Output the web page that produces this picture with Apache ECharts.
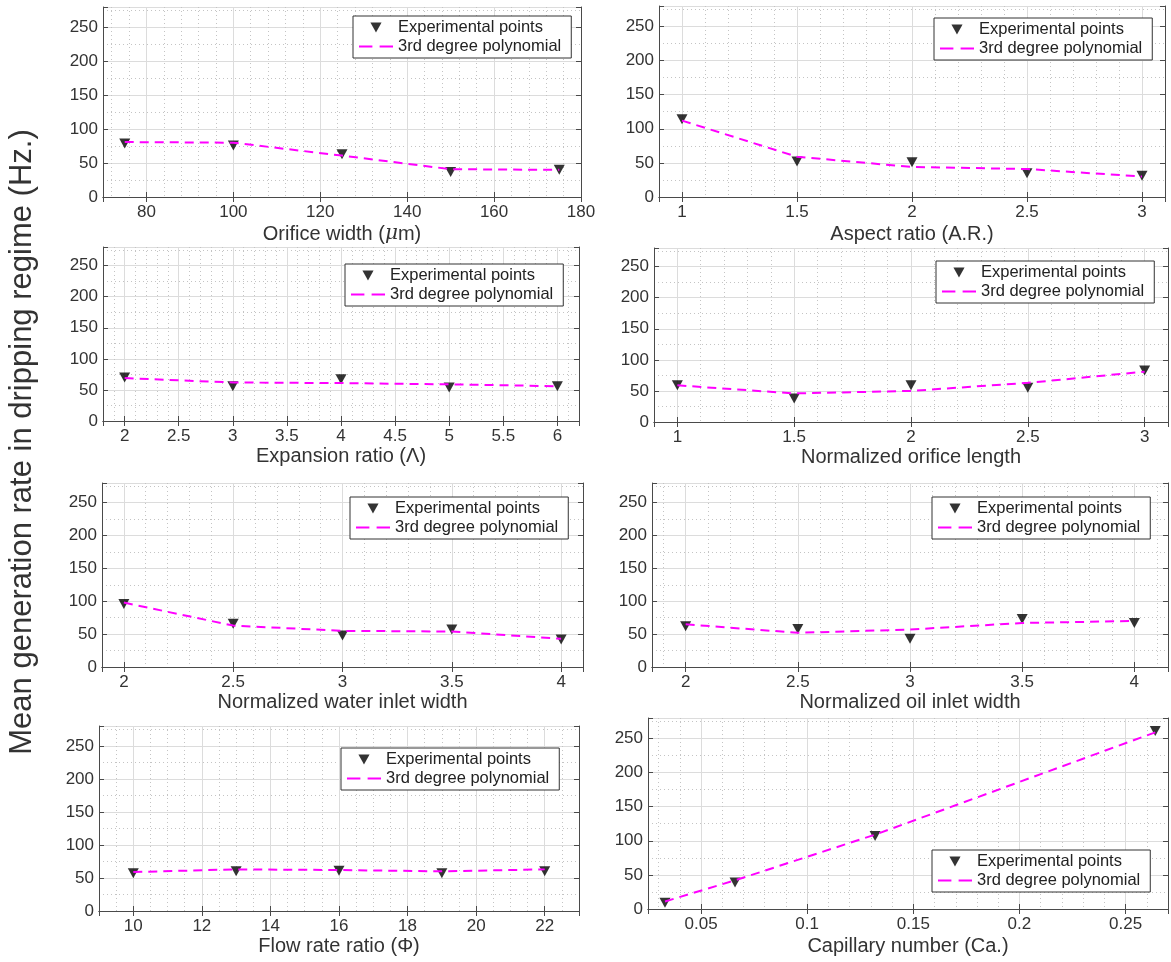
<!DOCTYPE html>
<html>
<head>
<meta charset="utf-8">
<script src="https://cdn.jsdelivr.net/npm/echarts@6/dist/echarts.min.js"></script>
<style>
  html, body { margin: 0; padding: 0; background: #fff; }
  #chart { width: 1171px; height: 962px; }
</style>
</head>
<body>
<div id="chart"></div>
<script>
// values, one pair of arrays per panel
const orificeWidth = [75, 100, 125, 150, 175];
const orificeWidthPts = [79, 76, 63, 37, 40];
const orificeWidthFit = [81, 80, 61, 41, 40];

const aspectRatio = [1, 1.5, 2, 2.5, 3];
const aspectRatioPts = [114, 52, 51, 35, 31];
const aspectRatioFit = [112, 59, 44, 41, 30];

const expansionRatio = [2, 3, 4, 5, 6];
const expansionRatioPts = [70, 56, 67, 54, 56];
const expansionRatioFit = [69, 62, 61, 59, 56];

const orificeLength = [1, 1.5, 2, 2.5, 3];
const orificeLengthPts = [59, 38, 59, 55, 83];
const orificeLengthFit = [59, 46, 50, 63, 81];

const waterInlet = [2, 2.5, 3, 3.5, 4];
const waterInletPts = [96, 66, 48, 57, 42];
const waterInletFit = [98, 63, 55, 54, 43];

const oilInlet = [2, 2.5, 3, 3.5, 4];
const oilInletPts = [62, 58, 43, 73, 67];
const oilInletFit = [65, 52, 57, 67, 70];

const flowRatio = [10, 13, 16, 19, 22];
const flowRatioPts = [57, 60, 61, 57, 60];
const flowRatioFit = [59, 63, 62, 60, 63];

const capillary = [0.033, 0.066, 0.132, 0.264];
const capillaryPts = [9, 39, 107, 261];
const capillaryFit = [11, 42, 109, 259];

const yTicks = [0, 50, 100, 150, 200, 250];

const panels = [
  { name: 'Orifice width ({i|μ}m)', x: orificeWidth, pts: orificeWidthPts, fit: orificeWidthFit, min: 70, max: 180, step: 20, split: 5, minor: 5 },
  { name: 'Aspect ratio (A.R.)', x: aspectRatio, pts: aspectRatioPts, fit: aspectRatioFit, min: 0.9, max: 3.1, step: 0.5, split: 5, minor: 5 },
  { name: 'Expansion ratio (Λ)', x: expansionRatio, pts: expansionRatioPts, fit: expansionRatioFit, min: 1.8, max: 6.2, step: 0.5, split: 9, minor: 5 },
  { name: 'Normalized orifice length', x: orificeLength, pts: orificeLengthPts, fit: orificeLengthFit, min: 0.9, max: 3.1, step: 0.5, split: 5, minor: 5 },
  { name: 'Normalized water inlet width', x: waterInlet, pts: waterInletPts, fit: waterInletFit, min: 1.9, max: 4.1, step: 0.5, split: 5, minor: 5 },
  { name: 'Normalized oil inlet width', x: oilInlet, pts: oilInletPts, fit: oilInletFit, min: 1.85, max: 4.15, step: 0.5, split: 5, minor: 5 },
  { name: 'Flow rate ratio (Φ)', x: flowRatio, pts: flowRatioPts, fit: flowRatioFit, min: 9, max: 23, step: 2, split: 7, minor: 4 },
  { name: 'Capillary number (Ca.)', x: capillary, pts: capillaryPts, fit: capillaryFit, min: 0.025, max: 0.27, step: 0.05, split: 5, minor: 5 }
];

const boxes = [
  { left: 103, top: 7, width: 478, height: 190, legend: [353, 16], gap: 27 },
  { left: 659, top: 6, width: 506, height: 191, legend: [934, 18], gap: 27 },
  { left: 103, top: 247, width: 476, height: 174, legend: [345, 264], gap: 25 },
  { left: 654, top: 248, width: 514, height: 174, legend: [936, 261], gap: 25 },
  { left: 102, top: 483, width: 481, height: 184, legend: [350, 497], gap: 25 },
  { left: 652, top: 483, width: 516, height: 184, legend: [932, 497], gap: 25 },
  { left: 99, top: 726, width: 480, height: 185, legend: [341, 748], gap: 25 },
  { left: 648, top: 718, width: 520, height: 191, legend: [932, 850], gap: 27 }
];

const font = '"Liberation Sans", Arial, Helvetica, sans-serif';
const textColor = '#333';
const frame = '#4a4a4a';
const marker = 'path://M0,0L10,0L5,9Z';
const dashIcon = 'path://M0,0H13V2H0Z M20,0H33V2H20Z';

const onStep = (v, step) => Math.abs(v / step - Math.round(v / step)) < 1e-6;
const fmt = (v) => String(+v.toFixed(4));

const grid = [], xAxis = [], yAxis = [], series = [], legend = [];

panels.forEach((p, i) => {
  const b = boxes[i];
  grid.push({ left: b.left, top: b.top, width: b.width, height: b.height, show: false });

  const tickIn = { show: true, inside: true, length: 5, lineStyle: { color: frame } };
  const line = { show: true, lineStyle: { color: frame, width: 1 } };

  xAxis.push({
    type: 'value', gridIndex: i, position: 'bottom', min: p.min, max: p.max, splitNumber: p.split,
    axisLine: line, axisTick: tickIn,
    axisLabel: {
      color: textColor, fontSize: 17, fontFamily: font, margin: 7,
      formatter: (v) => (onStep(v, p.step) ? fmt(v) : '')
    },
    splitLine: { show: true, lineStyle: { color: '#dcdcdc', width: 1 } },
    minorTick: { show: false, splitNumber: p.minor },
    minorSplitLine: { show: true, lineStyle: { color: '#c4c4c4', type: [1, 3], width: 1 } },
    name: p.name, nameLocation: 'middle', nameGap: b.gap,
    nameTextStyle: { color: textColor, fontSize: 20, fontFamily: font, rich: { i: { fontStyle: 'italic', fontSize: 20, fontFamily: 'DejaVu Serif', color: textColor } } }
  });
  xAxis.push({
    type: 'value', gridIndex: i, position: 'top', min: p.min, max: p.max, splitNumber: p.split,
    axisLine: line, axisTick: tickIn, axisLabel: { show: false }, splitLine: { show: false }
  });

  yAxis.push({
    type: 'value', gridIndex: i, position: 'left', min: 0, max: 280, interval: 50,
    axisLine: line, axisTick: tickIn,
    axisLabel: {
      color: textColor, fontSize: 17, fontFamily: font, margin: 5,
      formatter: (v) => (yTicks.includes(v) ? String(v) : '')
    },
    splitLine: { show: true, lineStyle: { color: '#dcdcdc', width: 1 } },
    minorTick: { show: false, splitNumber: 2 },
    minorSplitLine: { show: true, lineStyle: { color: '#c4c4c4', type: [1, 3], width: 1 } }
  });
  yAxis.push({
    type: 'value', gridIndex: i, position: 'right', min: 0, max: 280, interval: 50,
    axisLine: line, axisTick: tickIn, axisLabel: { show: false }, splitLine: { show: false }
  });

  series.push({
    name: 'Experimental points', type: 'scatter', xAxisIndex: 2 * i, yAxisIndex: 2 * i,
    symbol: marker, symbolSize: [11, 10], itemStyle: { color: '#000' },
    data: p.x.map((x, k) => [x, p.pts[k]]), z: 3
  });
  series.push({
    name: '3rd degree polynomial', type: 'line', xAxisIndex: 2 * i, yAxisIndex: 2 * i,
    symbol: 'none', lineStyle: { color: '#ff00ff', width: 2, type: [9, 6] },
    itemStyle: { color: '#ff00ff' },
    data: p.x.map((x, k) => [x, p.fit[k]]), z: 4
  });

  legend.push({
    left: b.legend[0], top: b.legend[1], orient: 'vertical',
    backgroundColor: '#fff', borderColor: '#333', borderWidth: 1, padding: [3, 10, 3, 6],
    itemGap: 2, itemWidth: 34, itemHeight: 10, selectedMode: false,
    textStyle: { color: '#222', fontSize: 16.5, fontFamily: font },
    data: [
      { name: 'Experimental points', icon: marker },
      { name: '3rd degree polynomial', icon: dashIcon }
    ]
  });
});

const chart = echarts.init(document.getElementById('chart'));
chart.setOption({
  animation: false,
  grid, xAxis, yAxis, series, legend,
  graphic: [{
    type: 'text', x: 22, y: 442, rotation: Math.PI / 2,
    style: {
      text: 'Mean generation rate in dripping regime (Hz.)',
      fontSize: 31, fontFamily: font, fill: textColor, align: 'center', verticalAlign: 'middle'
    }
  }]
});
</script>
</body>
</html>
